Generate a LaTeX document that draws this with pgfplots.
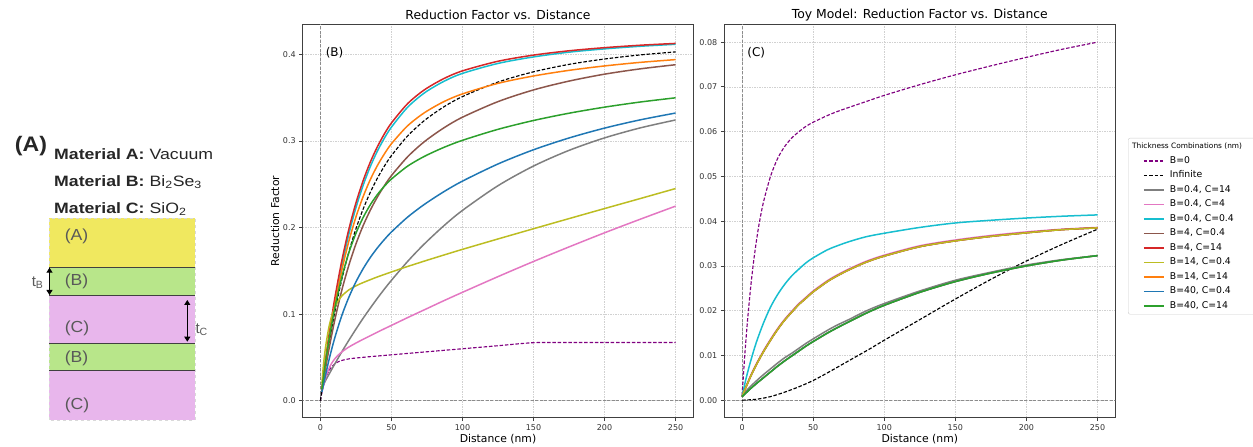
\documentclass[border=0pt]{standalone}
\usepackage{fontspec}
\setmainfont{DejaVu Sans}
\newfontfamily\arial{Liberation Sans}
\usepackage{pgfplots}
\pgfplotsset{compat=1.18}
\usetikzlibrary{arrows.meta}

\definecolor{tabblue}{HTML}{1F77B4}
\definecolor{taborange}{HTML}{FF7F0E}
\definecolor{tabgreen}{HTML}{2CA02C}
\definecolor{tabred}{HTML}{D62728}
\definecolor{tabbrown}{HTML}{8C564B}
\definecolor{tabpink}{HTML}{E377C2}
\definecolor{tabgray}{HTML}{7F7F7F}
\definecolor{tabolive}{HTML}{BCBD22}
\definecolor{tabcyan}{HTML}{17BECF}
\definecolor{mplpurple}{HTML}{800080}
\definecolor{layA}{HTML}{F0E85F}
\definecolor{layB}{HTML}{B8E68A}
\definecolor{layC}{HTML}{E8B6EC}

\pgfplotsset{
  common/.style={
    scale only axis, height=393.4pt,
    xmin=-12.5, xmax=262.5,
    xtick={0,50,100,150,200,250},
    axis line style={black!75, line width=0.8pt},
    tick align=outside, major tick length=3.5pt,
    tick style={black!75, line width=0.8pt},
    xtick pos=bottom, ytick pos=left,
    ticklabel style={font=\fontsize{8}{8}\selectfont, text=black!80},
    /pgf/number format/assume math mode=true,
    scaled x ticks=false, scaled y ticks=false,
    grid=major,
    major grid style={black!18, dash pattern=on 1.5pt off 1pt, line width=0.5pt},
    every axis title/.style={at={(axis description cs:0.5,1.023)}, anchor=center, font=\fontsize{12.4}{12.4}\selectfont},
    every axis x label/.style={at={(axis description cs:0.5,-0.055)}, anchor=center, font=\fontsize{10.8}{10.8}\selectfont},
    every axis y label/.style={at={(axis description cs:-0.0709,0.5)}, rotate=90, anchor=center, font=\fontsize{10.8}{10.8}\selectfont},
    xlabel={Distance (nm)},
    legend image code/.code={\draw[#1] (0pt,0pt) -- (20pt,0pt);},
  },
  sol/.style={line width=1.5pt, smooth, tension=0.5, no markers},
  dsh/.style={line width=1.15pt, dash pattern=on 3.5pt off 1.8pt, smooth, tension=0.5, no markers},
  zl/.style={forget plot, black!45, line width=0.7pt, dash pattern=on 3pt off 1.5pt},
}

\begin{document}
\begin{tikzpicture}
\useasboundingbox (0pt,0pt) rectangle (1253pt,447pt);

% ---------------- Panel (A) ----------------
\begin{scope}[x=1pt,y=1pt]
\fill[layA] (49.3,179.3) rectangle (195,228.7);
\fill[layB] (49.3,152) rectangle (195,179.3);
\fill[layC] (49.3,103.7) rectangle (195,152);
\fill[layB] (49.3,76.3) rectangle (195,103.7);
\fill[layC] (49.3,27) rectangle (195,76.3);
\draw[black!15, dashed, line width=0.5pt] (49.3,27) rectangle (195,228.7);
\foreach \yy in {179.3,152,103.7,76.3} {\draw[black!75, line width=0.9pt] (49.3,\yy) -- (195,\yy);}
\node[anchor=west, xscale=1.1, text=black!85] at (11,301) {\arial\bfseries\fontsize{21}{21}\selectfont (A)};
\node[anchor=base west, xscale=1.18, text=black!85] at (50,287.6) {\arial\fontsize{15}{15}\selectfont\textbf{Material A:} Vacuum};
\node[anchor=base west, xscale=1.18, text=black!85] at (50,260.6) {\arial\fontsize{15}{15}\selectfont\textbf{Material B:} Bi\textsubscript{2}Se\textsubscript{3}};
\node[anchor=base west, xscale=1.18, text=black!85] at (50,233.6) {\arial\fontsize{15}{15}\selectfont\textbf{Material C:} SiO\textsubscript{2}};
\foreach \yy/\tt in {210.3/(A),165.3/(B),118.7/(C),88.7/(B),42/(C)}
  {\node[anchor=west, xscale=1.1, text=black!65] at (61,\yy) {\arial\fontsize{16}{16}\selectfont \tt};}
\draw[{Triangle[width=6pt,length=5pt]}-{Triangle[width=6pt,length=5pt]}, line width=1pt] (49.5,179.3) -- (49.5,152);
\draw[{Triangle[width=6pt,length=5pt]}-{Triangle[width=6pt,length=5pt]}, line width=1pt] (187.3,147) -- (187.3,105.3);
\node[anchor=east, text=black!65] at (47,164) {\arial\fontsize{15}{15}\selectfont t\textsubscript{B}};
\node[anchor=west, text=black!65] at (192,117) {\arial\fontsize{15}{15}\selectfont t\textsubscript{C}};
\end{scope}

% ---------------- Panel (B) ----------------
\begin{axis}[common, at={(302.7pt,29.3pt)}, anchor=south west, width=390.6pt,
  ymin=-0.0196, ymax=0.4347,
  ytick={0,0.1,0.2,0.3,0.4},
  yticklabel style={/pgf/number format/.cd, fixed, fixed zerofill, precision=1},
  title={Reduction Factor vs. Distance}, ylabel={Reduction Factor}]
\addplot[zl] coordinates {(0,-1) (0,1)};
\addplot[zl] coordinates {(-20,0) (300,0)};
% B=0
\addplot[dsh, mplpurple] coordinates {(0,0)(1,0.0093)(2,0.0168)(3,0.0228)(4,0.0277)(6,0.0347)(8,0.0393)(10,0.0424)(12,0.0445)(15,0.0465)(20,0.0483)(25,0.0493)(30,0.0501)(35,0.0509)(40,0.0516)(45,0.0523)(50,0.0530)(67,0.0554)(87,0.0582)(100,0.0600)(125,0.0635)(150,0.0670)(175,0.0672)(200,0.0672)(250,0.0673)};
% Infinite
\addplot[dsh, black] coordinates {(0,0)(2,0.0236)(4,0.0454)(6,0.0657)(10,0.1017)(15,0.1399)(20,0.1718)(25,0.1986)(30,0.2211)(35,0.2403)(40,0.2567)(45,0.2709)(50,0.2831)(60,0.3033)(67,0.3147)(75,0.3259)(87,0.3395)(100,0.3512)(125,0.3680)(150,0.3798)(175,0.3884)(200,0.3946)(225,0.3993)(250,0.4028)};
% B=0.4, C=14
\addplot[sol, tabgray] coordinates {(1,0.0130)(3,0.0214)(6,0.0305)(10,0.0422)(15,0.0564)(20,0.0698)(25,0.0827)(30,0.0951)(35,0.1068)(40,0.1181)(45,0.1289)(50,0.1391)(60,0.1583)(67,0.1708)(75,0.1840)(87,0.2022)(100,0.2198)(125,0.2483)(150,0.2710)(175,0.2891)(200,0.3035)(225,0.3150)(250,0.3242)};
% B=0.4, C=4
\addplot[sol, tabpink] coordinates {(1,0.0110)(2,0.0169)(3,0.0233)(4,0.0287)(6,0.0372)(8,0.0435)(10,0.0482)(12,0.0519)(15,0.0563)(20,0.0620)(25,0.0666)(30,0.0709)(35,0.0750)(40,0.0791)(45,0.0831)(50,0.0870)(60,0.0949)(67,0.1003)(75,0.1064)(87,0.1156)(100,0.1252)(125,0.1433)(150,0.1608)(175,0.1776)(200,0.1939)(225,0.2095)(250,0.2247)};
% B=0.4, C=0.4
\addplot[sol, tabcyan] coordinates {(1,0.0135)(3,0.0385)(6,0.0725)(10,0.1125)(15,0.1555)(20,0.1925)(25,0.2230)(30,0.2485)(35,0.2700)(40,0.2880)(45,0.3032)(50,0.3160)(60,0.3365)(67,0.3474)(75,0.3575)(87,0.3689)(100,0.3780)(125,0.3895)(150,0.3970)(175,0.4025)(200,0.4063)(225,0.4093)(250,0.4116)};
% B=4, C=0.4
\addplot[sol, tabbrown] coordinates {(1,0.0109)(3,0.0316)(6,0.0596)(10,0.0925)(15,0.1274)(20,0.1565)(25,0.1811)(30,0.2020)(35,0.2197)(40,0.2350)(45,0.2483)(50,0.2600)(60,0.2793)(67,0.2905)(75,0.3015)(87,0.3152)(100,0.3274)(125,0.3454)(150,0.3589)(175,0.3691)(200,0.3771)(225,0.3832)(250,0.3880)};
% B=4, C=14
\addplot[sol, tabred] coordinates {(1,0.0138)(3,0.0400)(6,0.0757)(10,0.1174)(15,0.1614)(20,0.1981)(25,0.2285)(30,0.2539)(35,0.2752)(40,0.2930)(45,0.3081)(50,0.3208)(60,0.3407)(67,0.3513)(75,0.3610)(87,0.3721)(100,0.3809)(125,0.3920)(150,0.3991)(175,0.4041)(200,0.4077)(225,0.4105)(250,0.4126)};
% B=14, C=0.4
\addplot[sol, tabolive] coordinates {(1,0.0200)(2,0.0395)(3,0.0544)(4,0.0665)(6,0.0853)(8,0.0982)(10,0.1073)(12,0.1140)(15,0.1209)(20,0.1280)(25,0.1327)(30,0.1364)(35,0.1397)(40,0.1429)(45,0.1458)(50,0.1487)(60,0.1543)(67,0.1580)(75,0.1622)(87,0.1683)(100,0.1748)(125,0.1868)(150,0.1986)(175,0.2103)(200,0.2219)(225,0.2334)(250,0.2450)};
% B=14, C=14
\addplot[sol, taborange] coordinates {(1,0.0130)(3,0.0375)(6,0.0708)(10,0.1095)(15,0.1504)(20,0.1842)(25,0.2122)(30,0.2355)(35,0.2550)(40,0.2713)(45,0.2850)(50,0.2968)(60,0.3153)(67,0.3252)(75,0.3345)(87,0.3455)(100,0.3543)(125,0.3665)(150,0.3750)(175,0.3815)(200,0.3866)(225,0.3907)(250,0.3939)};
% B=40, C=0.4
\addplot[sol, tabblue] coordinates {(1,0.0100)(3,0.0252)(6,0.0471)(10,0.0721)(15,0.0982)(20,0.1195)(25,0.1373)(30,0.1523)(35,0.1652)(40,0.1763)(45,0.1861)(50,0.1949)(60,0.2101)(67,0.2193)(75,0.2288)(87,0.2415)(100,0.2536)(125,0.2734)(150,0.2898)(175,0.3034)(200,0.3148)(225,0.3243)(250,0.3322)};
% B=40, C=14
\addplot[sol, tabgreen] coordinates {(1,0.0133)(3,0.0377)(6,0.0701)(10,0.1062)(15,0.1424)(20,0.1709)(25,0.1934)(30,0.2114)(35,0.2260)(40,0.2379)(45,0.2477)(50,0.2560)(60,0.2693)(67,0.2766)(75,0.2837)(87,0.2926)(100,0.3007)(125,0.3134)(150,0.3236)(175,0.3320)(200,0.3390)(225,0.3449)(250,0.3498)};
\node[anchor=north west, font=\fontsize{12}{12}\selectfont] at (rel axis cs:0.05,0.95) {(B)};
\end{axis}

% ---------------- Panel (C) ----------------
\begin{axis}[common, at={(724.3pt,29.3pt)}, anchor=south west, width=391pt,
  ymin=-0.0039, ymax=0.0840,
  ytick={0,0.01,0.02,0.03,0.04,0.05,0.06,0.07,0.08},
  yticklabel style={/pgf/number format/.cd, fixed, fixed zerofill, precision=2},
  title={Toy Model: Reduction Factor vs. Distance},
  legend style={at={(1.0325,0.711)}, anchor=north west, draw=black!20, rounded corners=2pt,
    font=\fontsize{9.3}{9.3}\selectfont, inner xsep=15pt, inner ysep=4pt, row sep=5.9pt, column sep=2.7pt,
    nodes={text height=6.8pt, text depth=1.8pt, inner ysep=0pt, inner xsep=2.5pt}},
  legend cell align=left]
\addlegendimage{empty legend}
\addlegendentry{\fontsize{7.4}{7.4}\selectfont\hspace*{-37.7pt}Thickness Combinations (nm)}
\addplot[zl] coordinates {(0,-1) (0,1)};
\addplot[zl] coordinates {(-20,0) (300,0)};
\addplot[dsh, mplpurple] coordinates {(0,0.0010)(1,0.0059)(2,0.0105)(3,0.0146)(4,0.0184)(6,0.0251)(8,0.0307)(10,0.0354)(12,0.0394)(15,0.0442)(20,0.0500)(25,0.0540)(30,0.0567)(35,0.0586)(40,0.0600)(45,0.0612)(50,0.0621)(60,0.0636)(67,0.0645)(75,0.0654)(87,0.0667)(100,0.0681)(125,0.0705)(150,0.0727)(175,0.0747)(200,0.0766)(225,0.0784)(250,0.0800)};
\addlegendentry{B=0}
\addplot[dsh, black] coordinates {(0,0)(10,0.0002)(20,0.0008)(30,0.0018)(40,0.0030)(50,0.0044)(60,0.0061)(70,0.0079)(80,0.0097)(90,0.0115)(100,0.0134)(125,0.0180)(150,0.0226)(175,0.0270)(200,0.0311)(225,0.0348)(250,0.0382)};
\addlegendentry{Infinite}
\addplot[sol, tabgray] coordinates {(0,0.0008)(1,0.0013)(3,0.0021)(6,0.0031)(10,0.0043)(15,0.0057)(20,0.0070)(25,0.0083)(30,0.0095)(35,0.0105)(40,0.0116)(45,0.0127)(50,0.0137)(60,0.0156)(67,0.0168)(75,0.0180)(87,0.0199)(100,0.0216)(125,0.0244)(150,0.0268)(175,0.0286)(200,0.0302)(225,0.0314)(250,0.0323)};
\addlegendentry{B=0.4, C=14}
\addplot[sol, tabpink] coordinates {(0,0.0008)(1,0.0017)(3,0.0033)(6,0.0055)(10,0.0081)(15,0.0110)(20,0.0136)(25,0.0160)(30,0.0181)(35,0.0199)(40,0.0216)(45,0.0230)(50,0.0244)(60,0.0267)(67,0.0280)(75,0.0293)(87,0.0310)(100,0.0324)(125,0.0345)(150,0.0358)(175,0.0368)(200,0.0376)(225,0.0382)(250,0.0386)};
\addlegendentry{B=0.4, C=4}
\addplot[sol, tabcyan] coordinates {(0,0.0008)(1,0.0023)(3,0.0051)(6,0.0087)(10,0.0129)(15,0.0172)(20,0.0208)(25,0.0236)(30,0.0259)(35,0.0278)(40,0.0293)(45,0.0307)(50,0.0318)(60,0.0336)(67,0.0345)(75,0.0354)(87,0.0365)(100,0.0373)(125,0.0386)(150,0.0396)(175,0.0402)(200,0.0407)(225,0.0411)(250,0.0414)};
\addlegendentry{B=0.4, C=0.4}
\addplot[sol, tabbrown] coordinates {(0,0.0008)(1,0.0016)(3,0.0031)(6,0.0053)(10,0.0079)(15,0.0108)(20,0.0134)(25,0.0158)(30,0.0179)(35,0.0197)(40,0.0214)(45,0.0228)(50,0.0242)(60,0.0265)(67,0.0278)(75,0.0291)(87,0.0308)(100,0.0322)(125,0.0343)(150,0.0356)(175,0.0366)(200,0.0374)(225,0.0381)(250,0.0385)};
\addlegendentry{B=4, C=0.4}
\addplot[sol, tabred] coordinates {(0,0.0008)(1,0.0016)(3,0.0031)(6,0.0053)(10,0.0079)(15,0.0108)(20,0.0134)(25,0.0158)(30,0.0179)(35,0.0197)(40,0.0214)(45,0.0228)(50,0.0242)(60,0.0265)(67,0.0278)(75,0.0291)(87,0.0308)(100,0.0322)(125,0.0343)(150,0.0356)(175,0.0366)(200,0.0374)(225,0.0381)(250,0.0385)};
\addlegendentry{B=4, C=14}
\addplot[sol, tabolive] coordinates {(0,0.0008)(1,0.0016)(3,0.0031)(6,0.0053)(10,0.0079)(15,0.0108)(20,0.0134)(25,0.0158)(30,0.0179)(35,0.0197)(40,0.0214)(45,0.0228)(50,0.0242)(60,0.0265)(67,0.0278)(75,0.0291)(87,0.0308)(100,0.0322)(125,0.0343)(150,0.0356)(175,0.0366)(200,0.0374)(225,0.0381)(250,0.0385)};
\addlegendentry{B=14, C=0.4}
\addplot[sol, taborange] coordinates {(0,0.0008)(1,0.0011)(3,0.0017)(6,0.0026)(10,0.0037)(15,0.0050)(20,0.0063)(25,0.0076)(30,0.0088)(35,0.0099)(40,0.0110)(45,0.0121)(50,0.0131)(60,0.0150)(67,0.0162)(75,0.0175)(87,0.0194)(100,0.0212)(125,0.0241)(150,0.0265)(175,0.0284)(200,0.0300)(225,0.0313)(250,0.0323)};
\addlegendentry{B=14, C=14}
\addplot[sol, tabblue] coordinates {(0,0.0008)(1,0.0011)(3,0.0017)(6,0.0026)(10,0.0037)(15,0.0050)(20,0.0063)(25,0.0076)(30,0.0088)(35,0.0099)(40,0.0110)(45,0.0121)(50,0.0131)(60,0.0150)(67,0.0162)(75,0.0175)(87,0.0194)(100,0.0212)(125,0.0241)(150,0.0265)(175,0.0284)(200,0.0300)(225,0.0313)(250,0.0323)};
\addlegendentry{B=40, C=0.4}
\addplot[sol, tabgreen] coordinates {(0,0.0008)(1,0.0011)(3,0.0017)(6,0.0026)(10,0.0037)(15,0.0050)(20,0.0063)(25,0.0076)(30,0.0088)(35,0.0099)(40,0.0110)(45,0.0121)(50,0.0131)(60,0.0150)(67,0.0162)(75,0.0175)(87,0.0194)(100,0.0212)(125,0.0241)(150,0.0265)(175,0.0284)(200,0.0300)(225,0.0313)(250,0.0323)};
\addlegendentry{B=40, C=14}
\node[anchor=north west, font=\fontsize{12}{12}\selectfont] at (rel axis cs:0.05,0.95) {(C)};
\end{axis}
\end{tikzpicture}
\end{document}
